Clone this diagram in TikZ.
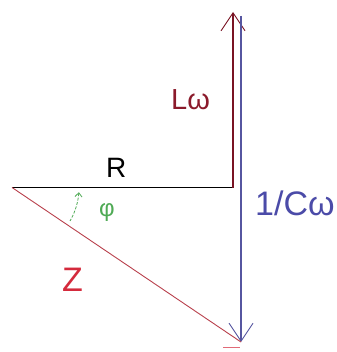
\documentclass[tikz,border=0pt]{standalone}
\usepackage{fontspec}
\setmainfont{Liberation Sans}
\usetikzlibrary{arrows.meta}
\definecolor{lred}{HTML}{8B1A2B}
\definecolor{lline}{HTML}{7A1424}
\definecolor{cblue}{HTML}{4B4BA8}
\definecolor{bline}{HTML}{5656A0}
\definecolor{zred}{HTML}{D42A3C}
\definecolor{zline}{HTML}{B8404C}
\definecolor{phigreen}{HTML}{4FAA55}
\begin{document}
\begin{tikzpicture}[x=1pt,y=-1pt,
  lbl/.style={inner sep=0pt, anchor=base west},
  vec/.style={line width=1.1pt},
  barb/.style={-{Straight Barb[length=18pt,width=24pt,line width=0.9pt]}}]
\useasboundingbox (0,0) rectangle (336,352);
\coordinate (O) at (12,187.5);
\coordinate (A) at (233,187.5);
\coordinate (T) at (233,12);
\coordinate (BT) at (241,16);
\coordinate (B) at (241,342);
\coordinate (D1) at (223,347);
\coordinate (D2) at (240,347);
% R
\draw[vec, black] (O) -- (A);
% L omega
\draw[vec, lline, barb] (A) -- (T);
% 1/C omega
\draw[vec, bline, barb] (BT) -- (B);
% Z
\draw[line width=0.9pt, zline] (O) -- (B);
\draw[line width=1pt, zred!70] (D1) -- (D2);
% angle
\draw[phigreen, line width=0.8pt, dash pattern=on 3pt off 1.5pt,
  {Straight Barb[length=4pt,width=7pt]}-]
  ([shift={(4:67)}]O) arc[start angle=4, end angle=30, radius=67];
% labels
\node[lbl, font=\fontsize{28}{30}\selectfont] (r) at (106,178) {R};
\node[lbl, font=\fontsize{29}{31}\selectfont, text=lred] (l) at (171,110) {Lω};
\node[lbl, font=\fontsize{34}{36}\selectfont, text=cblue] (c) at (255,215) {1/Cω};
\node[lbl, font=\fontsize{34}{36}\selectfont, text=zred] (z) at (62,291) {Z};
\node[inner sep=0pt, font=\fontsize{24}{26}\selectfont, text=phigreen] (p) at (107,213) {φ};
\end{tikzpicture}
\end{document}
